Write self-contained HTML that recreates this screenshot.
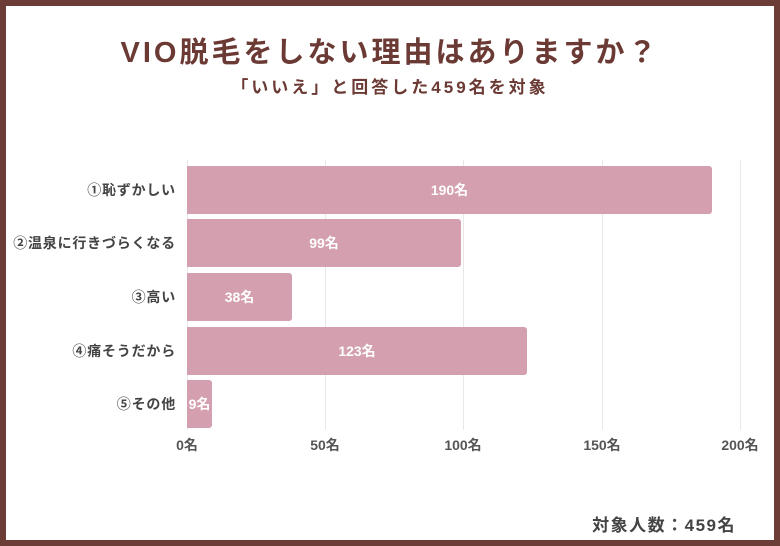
<!DOCTYPE html>
<html><head><meta charset="utf-8"><style>
*{margin:0;padding:0;box-sizing:border-box}
body{width:780px;height:546px;background:#6b3d36;position:relative;font-family:"Liberation Sans","Noto Sans CJK JP",sans-serif;overflow:hidden}
.in{position:absolute;left:6px;top:6px;width:768px;height:534px;background:#fff}
.t{position:absolute;left:0;width:780px;text-align:center;color:#6b3a34;font-weight:bold}
.g{position:absolute;top:160px;height:270px;width:1px;background:#e8e8e8}
.bar{position:absolute;left:187px;height:48px;background:#d49fae;border-radius:0 3px 3px 0;color:#fff;font-weight:bold;font-size:14px;display:flex;align-items:center;justify-content:center}
.lb{position:absolute;right:604px;font-size:14px;font-weight:bold;color:#444;white-space:nowrap;line-height:20px;letter-spacing:0.8px}
.tk{position:absolute;top:435px;font-size:14px;font-weight:bold;color:#555;width:60px;margin-left:-30px;text-align:center}
</style></head><body>
<div class="in"></div>
<div class="t" style="top:29px;font-size:29px;letter-spacing:3px">VIO脱毛をしない理由はありますか？</div>
<div class="t" style="top:73px;font-size:17px;letter-spacing:3px">「いいえ」と回答した459名を対象</div>
<div class="g" style="left:187px"></div><div class="g" style="left:325px"></div><div class="g" style="left:463px"></div><div class="g" style="left:602px"></div><div class="g" style="left:740px"></div>
<div class="bar" style="top:166px;width:525px">190名</div>
<div class="bar" style="top:219px;width:274px">99名</div>
<div class="bar" style="top:273px;width:105px">38名</div>
<div class="bar" style="top:327px;width:340px">123名</div>
<div class="bar" style="top:380px;width:25px">9名</div>
<div class="lb" style="top:180px">①恥ずかしい</div>
<div class="lb" style="top:233px">②温泉に行きづらくなる</div>
<div class="lb" style="top:287px">③高い</div>
<div class="lb" style="top:341px">④痛そうだから</div>
<div class="lb" style="top:394px">⑤その他</div>
<div class="tk" style="left:187px">0名</div><div class="tk" style="left:325px">50名</div><div class="tk" style="left:463px">100名</div><div class="tk" style="left:602px">150名</div><div class="tk" style="left:740px">200名</div>
<div style="position:absolute;right:44px;top:511px;font-size:17px;font-weight:bold;color:#444;letter-spacing:1.5px">対象人数：459名</div>
</body></html>
